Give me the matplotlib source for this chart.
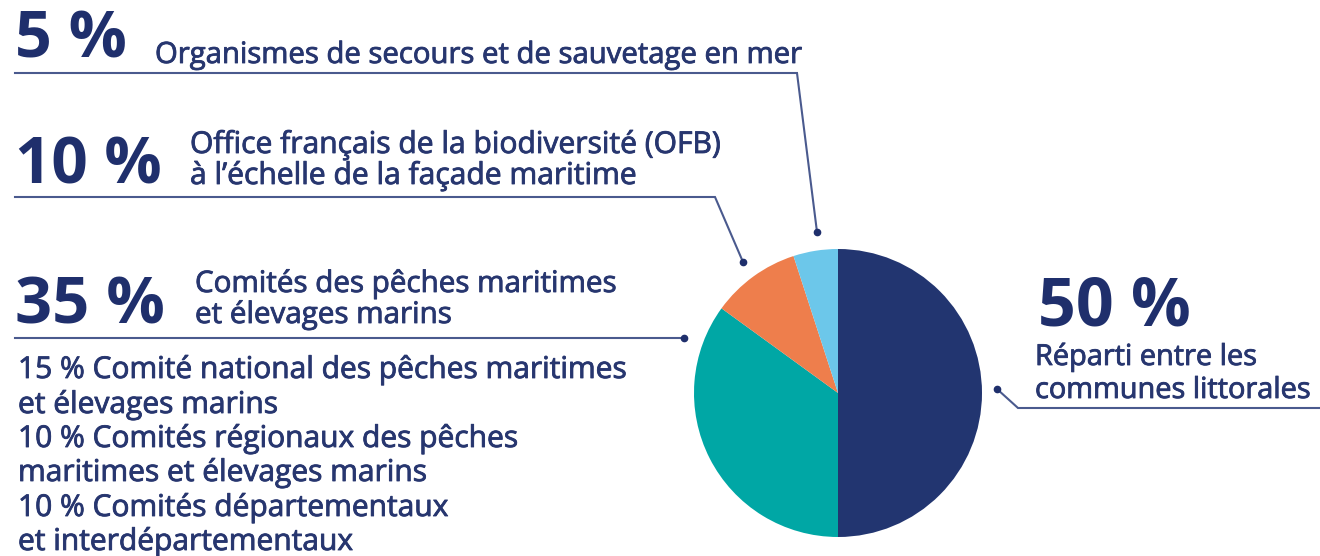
import matplotlib
matplotlib.use("Agg")
import matplotlib.pyplot as plt
import matplotlib.patheffects as pe

# ---------------- data ----------------
shares = [50, 35, 10, 5]
share_labels = ["50 %", "35 %", "10 %", "5 %"]
descriptions = [
    ["Réparti entre les", "communes littorales"],
    ["Comités des pêches maritimes", "et élevages marins"],
    ["Office français de la biodiversité (OFB)", "à l’échelle de la façade maritime"],
    ["Organismes de secours et de sauvetage en mer"],
]
slice_colors = ["#223570", "#00a7a5", "#ee7e4c", "#6cc7ea"]

sub_shares = [15, 10, 10]
sub_labels = [
    ["Comité national des pêches maritimes", "et élevages marins"],
    ["Comités régionaux des pêches", "maritimes et élevages marins"],
    ["Comités départementaux", "et interdépartementaux"],
]

# ---------------- style ----------------
W, H, DPI = 1320, 556, 100
NAVY = "#1f2f6c"
TEXT = "#27366f"
LINE = "#4a5a8e"
FONT = ["Open Sans", "DejaVu Sans"]

fig = plt.figure(figsize=(W / DPI, H / DPI), dpi=DPI)
fig.patch.set_facecolor("white")

# background axes in pixel coordinates (for text + leader lines)
bg = fig.add_axes([0, 0, 1, 1])
bg.set_xlim(0, W)
bg.set_ylim(H, 0)
bg.axis("off")

# pie axes
cx, cy, r = 838, 393, 144
pie_ax = fig.add_axes([(cx - r) / W, (H - cy - r) / H, 2 * r / W, 2 * r / H])
pie_ax.pie(shares, colors=slice_colors, startangle=90, counterclock=False,
           radius=1.0, wedgeprops=dict(linewidth=0))
pie_ax.set_xlim(-1, 1)
pie_ax.set_ylim(-1, 1)
pie_ax.set_aspect("equal")
pie_ax.axis("off")

renderer = fig.canvas.get_renderer()
thicken = [pe.withStroke(linewidth=0.6, foreground=TEXT)]


def fitted(x, lines, target_width, ys, color=TEXT, weight="normal", effects=thicken):
    """Draw lines of text, scaling the font so the longest line spans target_width px."""
    texts = [bg.text(x, yy, s, fontsize=20, color=color, family=FONT,
                     fontweight=weight, ha="left", va="baseline",
                     path_effects=effects)
             for s, yy in zip(lines, ys)]
    wmax = max(t.get_window_extent(renderer=renderer).width for t in texts)
    fs = 20 * target_width / wmax
    for t in texts:
        t.set_fontsize(fs)
    return texts


# big percentages
fitted(15, [share_labels[3]], 112, [58], color=NAVY, weight="bold", effects=[])
fitted(15, [share_labels[2]], 147, [184], color=NAVY, weight="bold", effects=[])
fitted(15, [share_labels[1]], 150, [324], color=NAVY, weight="bold", effects=[])
fitted(1038, [share_labels[0]], 153, [326], color=NAVY, weight="bold", effects=[])

# descriptions
fitted(155, descriptions[3], 645, [63])
fitted(190, descriptions[2], 530, [153, 184])
fitted(195, descriptions[1], 420, [292, 323])
fitted(1035, descriptions[0], 275, [365, 398])

# sub breakdown of the 35 %
sub_lines = []
for v, lab in zip(sub_shares, sub_labels):
    sub_lines.append(f"{v} % {lab[0]}")
    sub_lines.append(lab[1])
fitted(18, sub_lines, 607, [378, 413, 447, 481, 516, 550])

# leader lines
leaders = [
    ([15, 797, 817], [73, 73, 232]),
    ([15, 715, 743], [197, 197, 262]),
    ([15, 684], [338, 338]),
    ([1320, 1018, 997], [408, 408, 389]),
]
for xs, ys in leaders:
    bg.plot(xs, ys, color=LINE, lw=1.5, solid_joinstyle="miter")
    bg.plot(xs[-1], ys[-1], "o", color=NAVY, markersize=4.5)

fig.savefig("out.png", dpi=DPI, facecolor="white")
